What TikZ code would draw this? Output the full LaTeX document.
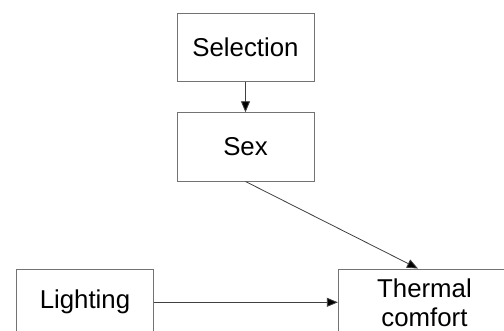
\documentclass[tikz,border=0pt]{standalone}
\usepackage{fontspec}
\setmainfont{Liberation Sans}
\usetikzlibrary{arrows.meta,calc}
\begin{document}
\begin{tikzpicture}[x=1pt,y=-1pt,
  box/.style={draw=black!55,line width=0.9pt,rectangle,inner sep=0pt,
    align=center,font=\fontsize{25.8}{29}\selectfont},
  conn/.style={draw=black!75,line width=0.8pt,
    -{Triangle[length=11pt,width=9pt,fill=black]}}]
\useasboundingbox (0,0) rectangle (504,330);
\clip (0,0) rectangle (504,330);
\fill[white] (0,0) rectangle (504,330);
\node[box,minimum width=137pt,minimum height=68.4pt] (sel) at (245.5,47.5) {Selection};
\node[box,minimum width=137pt,minimum height=68.3pt] (sex) at (245.5,146.9) {Sex};
\node[box,minimum width=136.6pt,minimum height=66.6pt] (light) at (85,302.3) {Lighting};
\node[box,minimum width=172.4pt,minimum height=66.6pt] (therm) at (424.5,302.3) {Thermal\\comfort};
\draw[conn] (sel.south) -- (sex.north);
\draw[conn] (sex.south) -- ([xshift=-6.5pt]therm.north);
\draw[conn] (light.east) -- (therm.west);
\end{tikzpicture}
\end{document}
